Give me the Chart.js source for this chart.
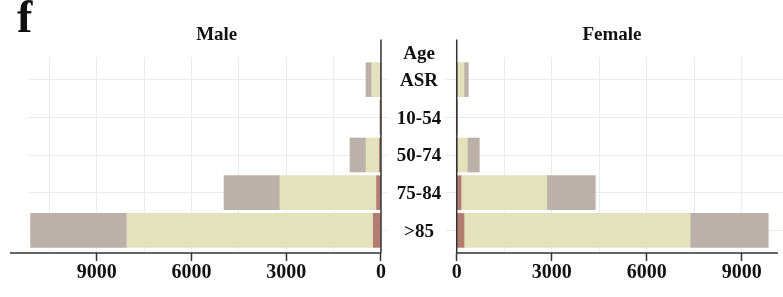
<!DOCTYPE html>
<html>
<head>
<meta charset="utf-8">
<script src="https://cdn.jsdelivr.net/npm/chart.js@4.4.0/dist/chart.umd.min.js"></script>
<style>
  html, body { margin: 0; padding: 0; background: #fff; }
  #wrap { position: relative; width: 783px; height: 297px; }
  #wrap canvas { position: absolute; left: 0; top: 0; }
</style>
</head>
<body>
<div id="wrap">
  <canvas id="male" width="783" height="297"></canvas>
  <canvas id="female" width="783" height="297"></canvas>
</div>
<script>
// Valeurs (de haut en bas)
const ageGroups = ['ASR', '10-54', '50-74', '75-84', '>85'];
const maleRed   = [10, 3, 50, 140, 245];
const maleBeige = [285, 25, 425, 3060, 7800];
const maleGrey  = [180, 10, 505, 1770, 3050];
const femaleRed   = [8, 3, 20, 136, 230];
const femaleBeige = [222, 20, 315, 2706, 7140];
const femaleGrey  = [137, 10, 379, 1535, 2470];
const xTickLabels = [0, 3000, 6000, 9000];
const xGridValues = [0, 1500, 3000, 4500, 6000, 7500, 9000, 10500];

const FONT = '"Liberation Serif", "Times New Roman", serif';
const COLORS = { red: '#b27d70', beige: '#e4e1bd', grey: '#bcb1a9' };

function toPoints(values) {
    return values.map((v, i) => ({ x: v, y: i }));
}

function buildDatasets(red, beige, grey) {
    return [
        { label: 'red', data: toPoints(red), backgroundColor: COLORS.red },
        { label: 'beige', data: toPoints(beige), backgroundColor: COLORS.beige },
        { label: 'grey', data: toPoints(grey), backgroundColor: COLORS.grey }
    ].map(d => Object.assign(d, { barThickness: 34, borderWidth: 0 }));
}

// Ligne du zéro, axe horizontal et titre du panneau
const decorPlugin = {
    id: 'decor',
    afterDatasetsDraw(chart, args, opts) {
        const { ctx, chartArea, scales } = chart;
        const x0 = scales.x.getPixelForValue(0);
        const xEnd = scales.x.getPixelForValue(opts.axisEnd);
        ctx.save();
        ctx.strokeStyle = '#333';
        ctx.lineWidth = 1.5;
        ctx.beginPath();
        ctx.moveTo(x0, opts.lineTop);
        ctx.lineTo(x0, chartArea.bottom);
        ctx.moveTo(xEnd, chartArea.bottom);
        ctx.lineTo(x0, chartArea.bottom);
        ctx.stroke();
        ctx.font = 'bold 19px ' + FONT;
        ctx.fillStyle = '#111';
        ctx.textAlign = 'center';
        ctx.textBaseline = 'alphabetic';
        ctx.fillText(opts.title, opts.titleX, 39.5);
        if (opts.letter) {
            ctx.font = 'bold 46px ' + FONT;
            ctx.textAlign = 'left';
            ctx.fillText(opts.letter, 17, 32);
        }
        ctx.restore();
    }
};

// Étiquettes des classes d'âge au centre
const ageLabelPlugin = {
    id: 'ageLabels',
    afterDraw(chart, args, opts) {
        const { ctx } = chart;
        const yScale = chart.scales.y;
        ctx.save();
        ctx.font = 'bold 19px ' + FONT;
        ctx.fillStyle = '#111';
        ctx.textAlign = 'center';
        ctx.textBaseline = 'alphabetic';
        ctx.fillText('Age', opts.x, 58.5);
        ageGroups.forEach((g, i) => {
            ctx.fillText(g, opts.x, yScale.getPixelForValue(i) + 6.3);
        });
        ctx.restore();
    }
};

function makeOptions(side) {
    const isMale = side === 'male';
    return {
        indexAxis: 'y',
        responsive: false,
        animation: false,
        devicePixelRatio: 1,
        layout: {
            padding: isMale
                ? { left: 28, right: 395, top: 57, bottom: 0 }
                : { left: 445, right: 0, top: 57, bottom: 0 }
        },
        scales: {
            x: {
                type: 'linear',
                stacked: true,
                reverse: isMale,
                min: isMale ? -222 : -370,
                max: isMale ? 11176 : 10305,
                afterBuildTicks: s => {
                    s.ticks = xGridValues.filter(v => v <= s.max).map(v => ({ value: v }));
                },
                afterFit: s => { s.height = 44; },
                ticks: {
                    autoSkip: false,
                    maxRotation: 0,
                    padding: 0,
                    color: '#111',
                    font: { family: FONT, size: 20, weight: 'bold' },
                    callback: v => xTickLabels.includes(v) ? String(v) : ''
                },
                grid: {
                    color: c => (c.tick && c.tick.value === 0) ? 'rgba(0,0,0,0)' : '#ebebeb',
                    tickColor: c => (c.tick && xTickLabels.includes(c.tick.value)) ? '#333' : 'rgba(0,0,0,0)',
                    tickLength: 8,
                    tickWidth: 1.5,
                    lineWidth: 1
                },
                border: { display: false }
            },
            y: {
                type: 'linear',
                stacked: true,
                reverse: true,
                offset: false,
                min: -0.6,
                max: 4.6,
                afterBuildTicks: s => {
                    s.ticks = ageGroups.map((g, i) => ({ value: i }));
                },
                ticks: { display: false },
                grid: { color: '#ebebeb', drawTicks: false, lineWidth: 1, offset: false },
                border: { display: false }
            }
        },
        plugins: {
            legend: { display: false },
            tooltip: { enabled: false },
            decor: isMale
                ? { axisEnd: 11746, lineTop: 39.5, title: 'Male', titleX: 216.7, letter: 'f' }
                : { axisEnd: 10147, lineTop: 39.5, title: 'Female', titleX: 612 },
            ageLabels: { x: 419 }
        }
    };
}

new Chart(document.getElementById('male').getContext('2d'), {
    type: 'bar',
    data: { datasets: buildDatasets(maleRed, maleBeige, maleGrey) },
    options: makeOptions('male'),
    plugins: [decorPlugin]
});

new Chart(document.getElementById('female').getContext('2d'), {
    type: 'bar',
    data: { datasets: buildDatasets(femaleRed, femaleBeige, femaleGrey) },
    options: makeOptions('female'),
    plugins: [decorPlugin, ageLabelPlugin]
});
</script>
</body>
</html>
